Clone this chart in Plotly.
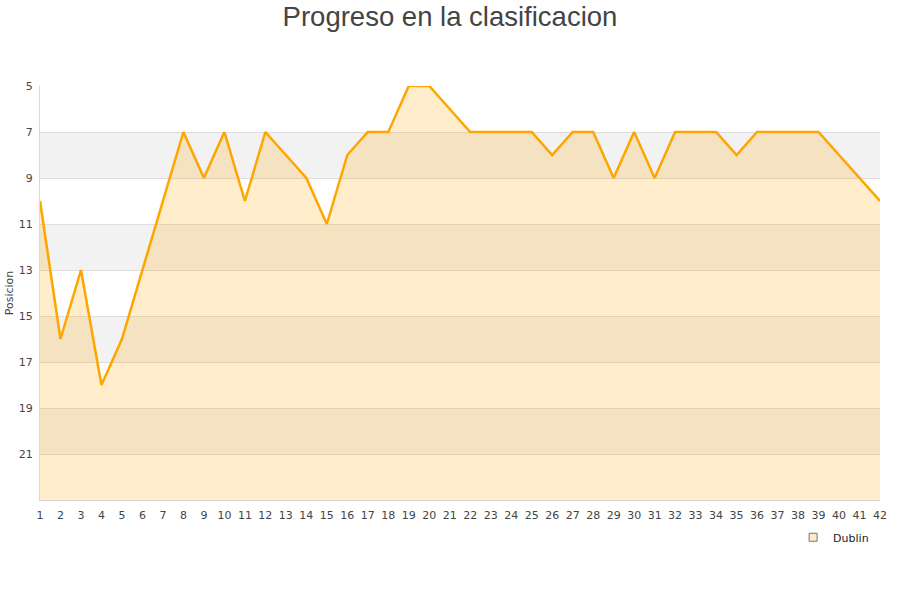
import plotly.graph_objects as go

jornadas = list(range(1, 43))
posiciones = [10, 16, 13, 18, 16, 13, 10, 7, 9, 7, 10, 7, 8, 9, 11, 8, 7, 7, 5, 5,
              6, 7, 7, 7, 7, 8, 7, 7, 9, 7, 9, 7, 7, 7, 8, 7, 7, 7, 7, 8, 9, 10]
equipo = "Dublin"
y_ticks = [5, 7, 9, 11, 13, 15, 17, 19, 21]
bandas = [(7, 9), (11, 13), (15, 17), (19, 21)]
y_min, y_max = 5, 23

fig = go.Figure()
fig.add_trace(go.Scatter(
    x=jornadas, y=[y_max] * len(jornadas), mode="lines",
    line=dict(width=0), showlegend=False, hoverinfo="skip"))
fig.add_trace(go.Scatter(
    x=jornadas, y=posiciones, mode="lines", fill="tonexty",
    fillcolor="rgba(255,165,0,0.2)", line=dict(color="#FFA500", width=2.5),
    showlegend=False, name=equipo))
fig.add_trace(go.Scatter(
    x=[None], y=[None], mode="markers", name=equipo,
    marker=dict(symbol="square", size=8, color="#FFEBC4",
                line=dict(color="#777", width=1))))

for a, b in bandas:
    fig.add_shape(type="rect", xref="paper", yref="y", x0=0, x1=1, y0=a, y1=b,
                  fillcolor="#F2F2F2", line=dict(width=0), layer="below")

fig.update_layout(
    width=900, height=600,
    paper_bgcolor="white", plot_bgcolor="white",
    margin=dict(l=40, r=20, t=86, b=100, autoexpand=False),
    title=dict(text="Progreso en la clasificacion", x=0.5, xanchor="center",
               yref="container", y=0.973, yanchor="middle",
               font=dict(family="Liberation Sans, Arial, sans-serif", size=27.5, color="#444")),
    font=dict(family="DejaVu Sans, sans-serif", size=11, color="#444"),
    xaxis=dict(range=[1, 42], tickvals=jornadas, showgrid=False, zeroline=False,
               showline=True, linecolor="#D9D9D9", linewidth=1, ticks="", automargin=False,
               ticklabelstandoff=5,
               tickfont=dict(size=11, color="#444")),
    yaxis=dict(range=[y_max, y_min], tickvals=y_ticks, showgrid=True, gridcolor="#DDDDDD",
               zeroline=False, showline=True, linecolor="#D9D9D9", linewidth=1, automargin=False,
               ticklabelstandoff=4,
               title=dict(text="Posicion", font=dict(size=11, color="#444"), standoff=2),
               tickfont=dict(size=11, color="#444")),
    legend=dict(x=0.993, y=-0.055, xanchor="right", yanchor="top",
                font=dict(size=11, color="#222"), bgcolor="rgba(0,0,0,0)"),
    showlegend=True,
)

fig.write_html("out.html", config={"displayModeBar": False},
               post_script="document.body.style.margin='0';")
